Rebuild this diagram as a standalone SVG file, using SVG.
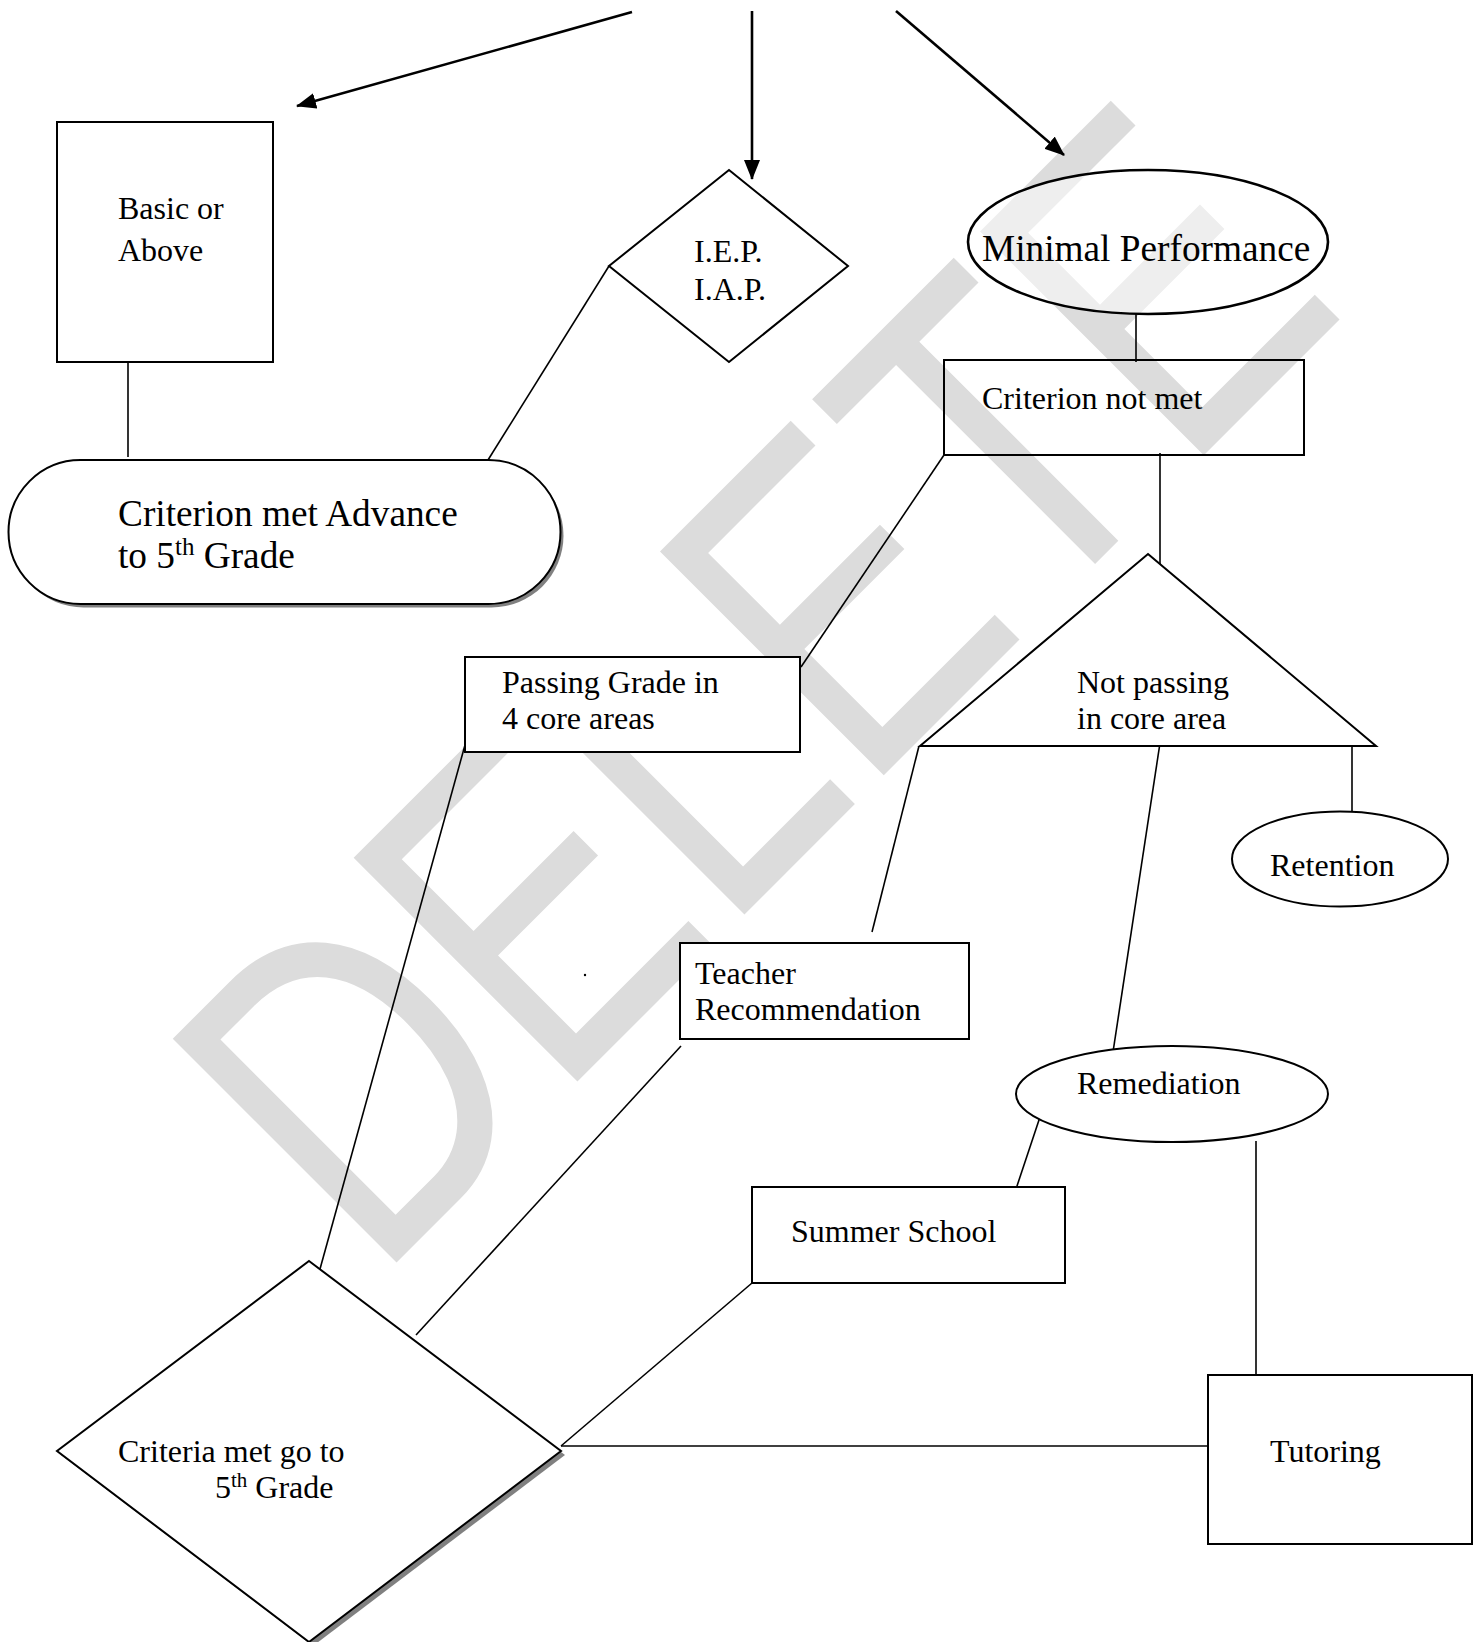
<svg xmlns="http://www.w3.org/2000/svg" width="1481" height="1642" viewBox="0 0 1481 1642">
<style>
.t{font-family:"Liberation Serif","Times New Roman",serif;font-size:32px;fill:#000}
.tl{font-family:"Liberation Serif","Times New Roman",serif;font-size:37.3px;fill:#000}
.box{fill:#fff;stroke:#000;stroke-width:2}
.ln{fill:none;stroke:#000;stroke-width:1.6}
.ar{fill:none;stroke:#000;stroke-width:2.6}
.wm{font-family:"Liberation Sans",Arial,sans-serif;font-size:460px;fill:#dcdcdc}
</style>
<defs>
<marker id="ah" viewBox="0 0 20 16" refX="19" refY="8" markerWidth="20" markerHeight="16" markerUnits="userSpaceOnUse" orient="auto">
<path d="M0,0 L20,8 L0,16 z" fill="#000"/>
</marker>
</defs>
<rect width="1481" height="1642" fill="#fff"/>
<g id="watermark">
<text class="wm" transform="translate(376,1283) rotate(-45) scale(0.77,1)" x="0" y="0">DELETE</text>
</g>
<g id="connectors">
<line class="ar" x1="632" y1="12" x2="297" y2="106" marker-end="url(#ah)"/>
<line class="ar" x1="752" y1="11" x2="752" y2="179" marker-end="url(#ah)"/>
<line class="ar" x1="896" y1="11" x2="1064" y2="155" marker-end="url(#ah)"/>
<line class="ln" x1="128" y1="360" x2="128" y2="457"/>
<line class="ln" x1="488" y1="460" x2="609" y2="266"/>
<line class="ln" x1="1136" y1="314" x2="1136" y2="362"/>
<line class="ln" x1="1160" y1="453" x2="1160" y2="573"/>
<line class="ln" x1="944" y1="455" x2="801" y2="667"/>
<line class="ln" x1="919" y1="746" x2="872" y2="932"/>
<line class="ln" x1="1160" y1="743" x2="1113" y2="1052"/>
<line class="ln" x1="1352" y1="740" x2="1352" y2="812"/>
<line class="ln" x1="681" y1="1046" x2="416" y2="1335"/>
<line class="ln" x1="465" y1="745" x2="320" y2="1269"/>
<line class="ln" x1="752" y1="1283" x2="561" y2="1446"/>
<line class="ln" x1="561" y1="1446" x2="1208" y2="1446"/>
<line class="ln" x1="1040" y1="1117" x2="1016" y2="1189"/>
<line class="ln" x1="1256" y1="1141" x2="1256" y2="1381"/>
</g>
<g id="basic">
<rect class="box" x="57" y="122" width="216" height="240"/>
<text class="t" x="118" y="219">Basic or</text>
<text class="t" x="118" y="261">Above</text>
</g>
<g id="advance">
<rect x="11.5" y="463.5" width="552" height="144" rx="72" fill="#808080"/>
<rect class="box" x="8.5" y="460" width="552" height="144" rx="72"/>
<text class="tl" x="118" y="526">Criterion met Advance</text>
<text class="tl" x="118" y="567.5">to 5<tspan font-size="25" dy="-13">th</tspan><tspan dy="13"> Grade</tspan></text>
</g>
<g id="iep">
<polygon class="box" points="729,170 848,266 729,362 609,266"/>
<text class="t" x="694" y="262">I.E.P.</text>
<text class="t" x="694" y="300">I.A.P.</text>
</g>
<g id="minimal">
<ellipse cx="1148" cy="242" rx="180" ry="72" fill="#fff" fill-opacity="0.5" stroke="#000" stroke-width="2.6"/>
<text class="tl" x="982" y="261">Minimal Performance</text>
</g>
<g id="notmet">
<rect x="944" y="360" width="360" height="95" fill="none" stroke="#000" stroke-width="2"/>
<text class="t" x="982" y="409">Criterion not met</text>
</g>
<g id="passing">
<rect class="box" x="465" y="657" width="335" height="95"/>
<text class="t" x="502" y="693">Passing Grade in</text>
<text class="t" x="502" y="729">4 core areas</text>
</g>
<g id="notpassing">
<polygon class="box" points="1148,554 1376,746 920,746"/>
<text class="t" x="1077" y="693">Not passing</text>
<text class="t" x="1077" y="729">in core area</text>
</g>
<g id="retention">
<ellipse class="box" cx="1340" cy="859" rx="108" ry="47.5"/>
<text class="t" x="1270" y="876">Retention</text>
</g>
<g id="teacher">
<rect class="box" x="680" y="943" width="289" height="96"/>
<text class="t" x="695" y="984">Teacher</text>
<text class="t" x="695" y="1020">Recommendation</text>
</g>
<g id="dot">
<circle cx="585" cy="975" r="1.2" fill="#000"/>
</g>
<g id="remediation">
<ellipse class="box" cx="1172" cy="1094" rx="156" ry="48"/>
<text class="t" x="1077" y="1094">Remediation</text>
</g>
<g id="summer">
<rect class="box" x="752" y="1187" width="313" height="96"/>
<text class="t" x="791" y="1242">Summer School</text>
</g>
<g id="tutoring">
<rect class="box" x="1208" y="1375" width="264" height="169"/>
<text class="t" x="1270" y="1462">Tutoring</text>
</g>
<g id="criteria">
<polygon points="313,1265 565,1455 313,1646 61,1455" fill="#808080"/>
<polygon class="box" points="309,1261 561,1451 309,1642 57,1451"/>
<text class="t" x="118" y="1462">Criteria met go to</text>
<text class="t" x="215" y="1498">5<tspan font-size="21" dy="-11">th</tspan><tspan dy="11"> Grade</tspan></text>
</g>
</svg>
